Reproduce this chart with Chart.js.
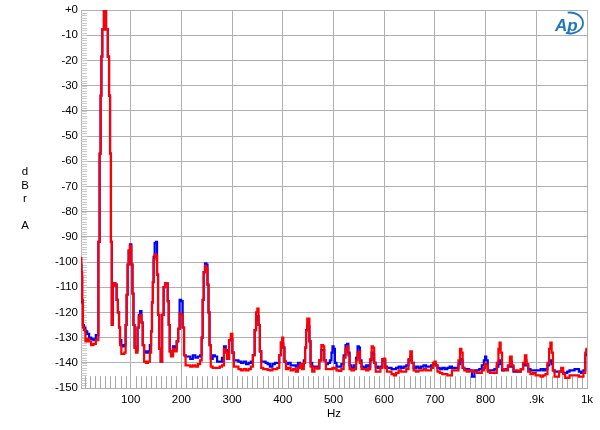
<!DOCTYPE html>
<html>
<head>
<meta charset="utf-8">
<script src="https://cdn.jsdelivr.net/npm/chart.js@4.4.1/dist/chart.umd.min.js"></script>
<style>
  html, body { margin: 0; padding: 0; background: #fff; }
</style>
</head>
<body>
<canvas id="fft" width="600" height="430"></canvas>
<script>
// spectrum (Hz / dBr A)
const freqHz = [
  2, 3.5, 5, 6.5, 9, 12.5, 16, 20, 24, 29,
  33.5, 35, 37.5, 39.9, 41.4, 43, 45, 49.3, 53.6, 56.2,
  58.5, 60.1, 62, 63.5, 66, 68.5, 71, 73.5, 76, 78,
  80, 83, 86, 89, 91, 93, 95, 97, 100, 102.5,
  104.5, 106.5, 109, 112, 115, 117, 120, 122.5, 125, 128,
  132, 136, 139.5, 141, 143, 144.5, 146, 148.5, 151, 153,
  155, 158, 160.5, 163.5, 166.5, 169, 172, 174, 176, 178,
  181, 186, 189, 192.5, 195, 198, 201, 204, 206.5, 210,
  215, 220, 225, 230, 235, 239, 241, 243, 245, 248,
  250.5, 252.5, 254.5, 256.5, 259.5, 264, 268, 273, 278, 282,
  286, 289, 292, 296, 299, 302, 305, 310, 315, 320,
  325, 330, 335, 339, 343, 346, 348.5, 351, 353.5, 356,
  359, 364, 368, 372, 377, 382, 387, 391, 395, 397.5,
  400, 402, 404.5, 408, 413, 418, 423, 428, 432, 436,
  440, 443, 445, 447, 449.5, 451.5, 453.5, 456, 460, 465,
  470, 474, 478, 480.5, 483, 487, 491, 495, 497, 499,
  501.5, 504, 508, 513, 518, 522, 525.5, 528, 530.5, 533,
  538, 543, 546, 549, 551, 553.5, 557, 562, 567, 571,
  574, 576.5, 579, 581.5, 585, 590, 595, 598, 600.5, 603.5,
  607, 612, 617, 621, 626, 631, 636, 641, 646, 650,
  653, 656, 660, 665, 670, 675, 680, 685, 690, 695,
  698, 700.5, 703, 707, 712, 717, 722, 727, 731, 736,
  741, 745, 748, 751, 753.5, 756, 760, 765, 770, 776,
  780, 785, 790, 795, 798, 800, 802.5, 806, 811, 815,
  820, 824, 826.5, 828.5, 831, 834, 838, 842, 846, 850,
  853, 857, 862, 867, 872, 876, 879, 882, 886, 891,
  896, 901, 906, 911, 916, 920, 924, 926.5, 929, 931.5,
  934, 938, 943, 947, 951, 955, 959, 963, 968, 973,
  978, 982, 986, 991, 995, 998, 1000
];
const blueDb = [
  -101, -106, -116, -125, -126, -127.5, -128.5, -130, -130.5, -131,
  -129, -129, -92, -57, -34, -18.5, -7.7, 0, -7.7, -18.5,
  -34, -57, -92, -125, -109.5, -108.5, -109, -115, -120, -126,
  -131, -133, -133.5, -133, -125, -113, -101, -95.5, -93, -101,
  -112.5, -125, -134, -135, -126, -121, -119.5, -124, -133, -135.5,
  -136, -135.5, -133, -127.5, -116, -108, -98, -92.5, -92, -105,
  -121, -134.5, -139.5, -121, -110, -108.5, -108.5, -115.5, -125, -135.5,
  -137, -133.5, -134.5, -131.5, -126.5, -115, -115.5, -126, -137, -137.5,
  -137.5, -138.5, -137, -138, -137.5, -137, -130, -115, -104, -100.5,
  -101, -109, -120, -133, -138.5, -137, -137.5, -139.5, -139.5, -138,
  -133.5, -135, -138.5, -131, -130.5, -136, -139, -139, -139.5, -140,
  -139.5, -140.5, -140, -139.5, -137, -127, -123, -121.5, -125, -135.5,
  -139.5, -139.5, -140, -140.5, -141.5, -140.5, -140, -140, -137, -132,
  -132.5, -134, -139.5, -140.5, -140, -141, -141, -141.5, -140, -140.5,
  -141, -139, -134, -127, -125, -125.5, -131.5, -140, -141.5, -141.5,
  -142, -139, -135, -135, -139, -140.5, -140, -139, -136, -133.5,
  -134.5, -140, -141.5, -141.5, -140.5, -137, -133, -132.5, -136, -141,
  -142, -141, -138, -133.5, -134, -139, -141.5, -142, -141, -141.5,
  -139, -136, -136.5, -140, -141.5, -142, -141.5, -138.5, -139, -141.5,
  -142, -142, -142.5, -142.5, -142, -141.5, -142, -141.5, -141, -139,
  -137.5, -140, -142, -141.5, -142, -141.5, -141, -141.5, -141.5, -141,
  -140.5, -140.5, -141, -142, -142.5, -142, -142.5, -142, -141.5, -142,
  -142, -142, -140.5, -138.5, -139, -142, -142.5, -142.5, -143, -145.5,
  -143, -143, -142.5, -141, -139, -137.5, -139, -143, -143, -143,
  -142.5, -141.5, -139.5, -139, -140.5, -143, -142.5, -142.5, -141.5, -139.5,
  -141.5, -143.5, -143.5, -143.5, -142.5, -141, -139, -141, -142.5, -143,
  -143, -143, -143, -142.5, -143, -142.5, -141, -139.5, -139, -140.5,
  -143, -143.5, -143.5, -143.5, -143.5, -144, -144, -143.5, -143, -143,
  -142.5, -142.5, -143.5, -144, -143, -137, -135
];
const redDb = [
  -98.5, -104, -115, -126, -127, -131.5, -130.5, -131.5, -133, -132.5,
  -131, -131, -92, -57, -34, -18.5, -7.7, 0, -7.7, -18.5,
  -34, -57, -92, -125, -109.5, -108.5, -109, -115, -120, -126,
  -133, -136.5, -136.5, -136, -125, -113, -101, -95.5, -93.5, -101,
  -112.5, -125, -134, -136, -126, -122, -121, -124, -133, -139.5,
  -140, -139.5, -136, -127.5, -116, -108, -99, -97, -97.5, -105,
  -121, -134.5, -139.5, -121, -110, -108.5, -108.5, -115.5, -125, -135.5,
  -137.5, -134.5, -135.5, -131.5, -126.5, -120.5, -121, -126, -137, -141,
  -141, -141.5, -141, -141.5, -140.5, -139, -130, -115, -104, -101.5,
  -102.5, -109, -120, -133, -141.5, -142, -142, -142, -141.5, -141,
  -134.5, -136, -138.5, -131, -128.5, -136, -141.5, -141.5, -142.5, -143,
  -142.5, -143, -142.5, -141.5, -137, -127, -120, -118.5, -125, -135.5,
  -142, -142.5, -142.5, -142.8, -143, -142.5, -142.5, -142, -137, -132,
  -130, -134, -139.5, -142.5, -142, -143, -142.5, -143.5, -142, -140.5,
  -142.5, -140, -134, -127, -122.5, -122.5, -131.5, -141.5, -143.5, -142,
  -142.3, -139, -133, -133.5, -139, -142.5, -142.5, -142.5, -142.5, -142,
  -142, -142.3, -143, -143.2, -142.5, -138, -134.5, -133.5, -137, -142.5,
  -143, -142.5, -139, -136, -135.5, -140, -142.5, -142.5, -143, -142.5,
  -138.5, -133.5, -134, -140, -143.5, -143.5, -142, -138.5, -138.3, -142,
  -143.5, -143.5, -144.5, -145, -144, -143, -143.5, -143.5, -142.5, -138.5,
  -135.5, -140, -143, -143.5, -143, -143, -142.5, -143, -143, -142,
  -140, -139.5, -141, -143.5, -144, -144.5, -144.5, -145, -145, -143,
  -143, -143, -139, -134.5, -136, -142, -143, -143.5, -143, -143.5,
  -143.5, -144, -144, -143, -142, -140.3, -141, -143.5, -144, -144,
  -144, -140, -134.5, -132, -136, -142.5, -143, -143, -141, -137.5,
  -141, -143, -143, -143.5, -142.5, -140, -137, -140.5, -143.5, -144.5,
  -144, -145, -145, -145.5, -145, -144.5, -140, -134.5, -132, -136,
  -143, -145.5, -145.5, -143.5, -142, -144.5, -146, -146, -145, -145,
  -145, -145, -145.5, -145.5, -144, -136, -134.5
];

const xTickHz = [100, 200, 300, 400, 500, 600, 700, 800, 900, 1000];
const yTickDb = [0, -10, -20, -30, -40, -50, -60, -70, -80, -90, -100, -110, -120, -130, -140, -150];
const yTitle = ['d', 'B', 'r', '', 'A'];

const FONT = '"Liberation Sans", Arial, sans-serif';
const GRID = '#b0b0b0';

const toPts = vals => freqHz.map((f, i) => ({ x: f, y: vals[i] }));

// minor ticks, stacked y title, logo
const decor = {
    id: 'decor',
    beforeDatasetsDraw(chart) {
        const { ctx, chartArea: a, scales: { x, y } } = chart;
        ctx.save();
        ctx.lineWidth = 1;
        ctx.strokeStyle = '#c8c8c8';
        ctx.beginPath();
        for (let d = -149; d < 0; d++) {
            const py = Math.round(y.getPixelForValue(d)) + 0.5;
            ctx.moveTo(a.left, py);
            ctx.lineTo(a.left + 6, py);
        }
        ctx.stroke();
        ctx.strokeStyle = '#a8a8a8';
        ctx.beginPath();
        for (let f = 10; f < 1000; f += 10) {
            if (f % 100 === 0) continue;
            const px = Math.round(x.getPixelForValue(f)) + 0.5;
            ctx.moveTo(px, y.getPixelForValue(-150));
            ctx.lineTo(px, y.getPixelForValue(-145.3));
        }
        ctx.stroke();
        ctx.restore();
    },
    afterDraw(chart) {
        const { ctx } = chart;
        ctx.save();
        ctx.fillStyle = '#000';
        ctx.font = '11.5px ' + FONT;
        ctx.textAlign = 'center';
        ctx.textBaseline = 'middle';
        yTitle.forEach((ch, i) => ctx.fillText(ch, 25, 172 + i * 13.5));

        // Ap logo
        ctx.fillStyle = '#2277bb';
        ctx.strokeStyle = '#2277bb';
        ctx.font = 'italic bold 17px ' + FONT;
        ctx.textAlign = 'left';
        ctx.textBaseline = 'alphabetic';
        ctx.fillText('Ap', 555, 31);
        ctx.lineWidth = 1.8;
        ctx.beginPath();
        ctx.ellipse(570, 23, 13, 10.5, 0, -1.75, 1.9);
        ctx.stroke();
        ctx.restore();
    }
};

new Chart(document.getElementById('fft'), {
    type: 'line',
    data: {
        datasets: [
            {
                label: 'Red',
                data: toPts(redDb),
                borderColor: '#ff0000',
                borderWidth: 2.2,
                pointRadius: 0,
                stepped: 'middle',
                order: 0
            },
            {
                label: 'Blue',
                data: toPts(blueDb),
                borderColor: '#0000ff',
                borderWidth: 2.2,
                pointRadius: 0,
                stepped: 'middle',
                order: 1
            }
        ]
    },
    options: {
        responsive: false,
        animation: false,
        events: [],
        layout: { padding: { left: 0, right: 13, top: 10, bottom: 0 } },
        plugins: { legend: { display: false }, tooltip: { enabled: false } },
        scales: {
            x: {
                type: 'linear',
                min: 2,
                max: 1000,
                afterBuildTicks: s => { s.ticks = xTickHz.map(v => ({ value: v })); },
                afterFit: s => { s.height = 42; },
                grid: { color: GRID, drawTicks: false },
                border: { color: GRID },
                ticks: {
                    color: '#000',
                    padding: 5,
                    maxRotation: 0,
                    autoSkip: false,
                    font: { size: 11.5, family: FONT },
                    callback: v => v === 1000 ? '1k' : v === 900 ? '.9k' : String(v)
                },
                title: {
                    display: true,
                    text: 'Hz',
                    color: '#000',
                    padding: { top: 0, bottom: 9 },
                    font: { size: 11.5, family: FONT }
                }
            },
            y: {
                min: -150,
                max: 0,
                afterBuildTicks: s => { s.ticks = yTickDb.map(v => ({ value: v })); },
                afterFit: s => { s.width = 81; },
                grid: { color: GRID, drawTicks: false },
                border: { color: GRID },
                ticks: {
                    color: '#000',
                    padding: 3,
                    font: { size: 11.5, family: FONT },
                    callback: v => v === 0 ? '+0' : String(v)
                }
            }
        }
    },
    plugins: [decor]
});
</script>
</body>
</html>
